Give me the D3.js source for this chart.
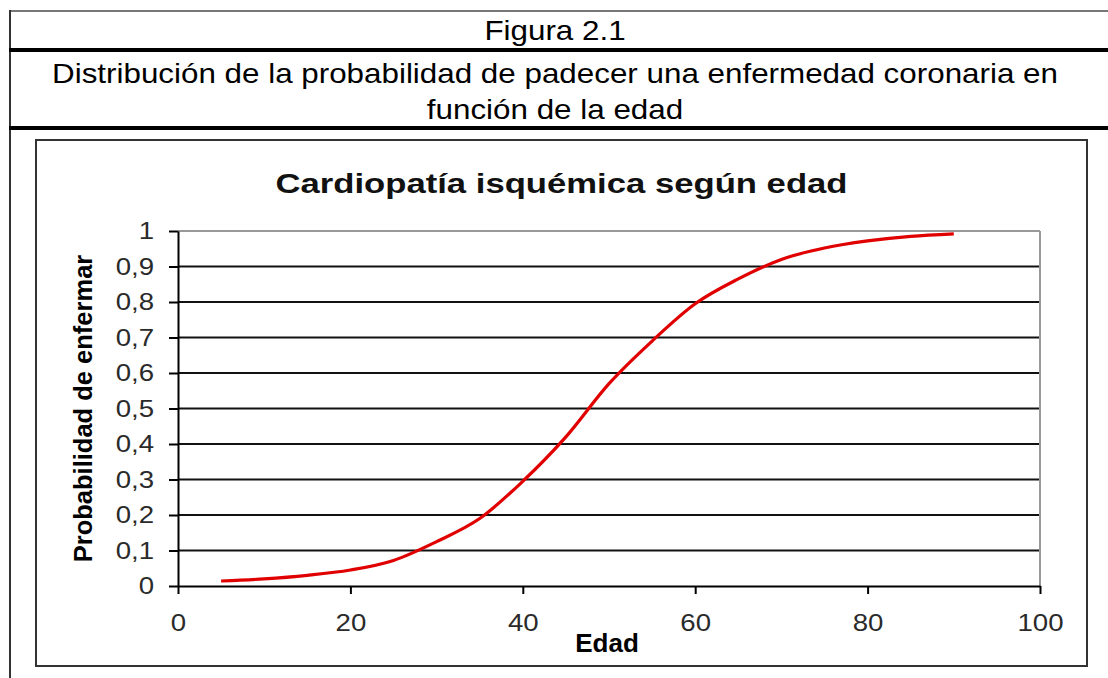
<!DOCTYPE html>
<html>
<head>
<meta charset="utf-8">
<script src="https://cdn.jsdelivr.net/npm/d3@7"></script>
<style>
  body { margin: 0; background: #fff; }
  svg { display: block; }
  text { font-family: "Liberation Sans", Arial, sans-serif; }
</style>
</head>
<body>
<svg id="chart" width="1108" height="678"></svg>
<script>
// ---- data ----
const figureLabel = "Figura 2.1";
const subtitleLines = [
  "Distribución de la probabilidad de padecer una enfermedad coronaria en",
  "función de la edad"
];
const chartTitle = "Cardiopatía isquémica según edad";
const xAxisTitle = "Edad";
const yAxisTitle = "Probabilidad de enfermar";

const ages = [5, 10, 15, 20, 25, 30, 35, 40, 45, 50, 55, 60, 65, 70, 75, 80, 85, 90];
const probabilities = [0.014, 0.02, 0.03, 0.045, 0.072, 0.125, 0.19, 0.295, 0.42, 0.57,
                       0.69, 0.795, 0.865, 0.92, 0.952, 0.972, 0.985, 0.992];

const xTicks = [0, 20, 40, 60, 80, 100];
const yTicks = [0, 0.1, 0.2, 0.3, 0.4, 0.5, 0.6, 0.7, 0.8, 0.9, 1];
const formatY = d => String(+d.toFixed(1)).replace(".", ",");

// ---- drawing ----
const svg = d3.select("#chart");
const W = 1108, H = 678;
svg.append("rect").attr("width", W).attr("height", H).attr("fill", "#fff");

function stretch(sel, factor) {
  sel.each(function () {
    const len = this.getComputedTextLength();
    d3.select(this).attr("textLength", len * factor).attr("lengthAdjust", "spacingAndGlyphs");
  });
}

// table frame
const tableLeft = 10, tableCenter = 555;
svg.append("line").attr("x1", tableLeft).attr("x2", W).attr("y1", 11).attr("y2", 11)
  .attr("stroke", "#777").attr("stroke-width", 2);
svg.append("line").attr("x1", tableLeft).attr("x2", tableLeft).attr("y1", 10).attr("y2", H)
  .attr("stroke", "#333").attr("stroke-width", 2);
[50, 128].forEach(yy => {
  svg.append("line").attr("x1", tableLeft - 1).attr("x2", W).attr("y1", yy).attr("y2", yy)
    .attr("stroke", "#000").attr("stroke-width", 4);
});

const fig = svg.append("text").attr("x", tableCenter).attr("y", 40)
  .attr("text-anchor", "middle").attr("font-size", 28).attr("fill", "#000").text(figureLabel);
stretch(fig, 1.12);

const sub1 = svg.append("text").attr("x", tableCenter).attr("y", 83)
  .attr("text-anchor", "middle").attr("font-size", 28).attr("fill", "#000").text(subtitleLines[0]);
stretch(sub1, 1.12);
const sub2 = svg.append("text").attr("x", tableCenter).attr("y", 119)
  .attr("text-anchor", "middle").attr("font-size", 28).attr("fill", "#000").text(subtitleLines[1]);
stretch(sub2, 1.12);

// chart box
const box = { x: 36, y: 140, w: 1051, h: 526 };
svg.append("rect").attr("x", box.x).attr("y", box.y).attr("width", box.w).attr("height", box.h)
  .attr("fill", "#fff").attr("stroke", "#333").attr("stroke-width", 2);

// scales
const plot = { left: 178, right: 1040, top: 231, bottom: 586 };
const x = d3.scaleLinear().domain([0, 100]).range([plot.left, plot.right]);
const y = d3.scaleLinear().domain([0, 1]).range([plot.bottom, plot.top]);

// gridlines
svg.append("g").selectAll("line").data(yTicks.filter(d => d > 0 && d < 1)).join("line")
  .attr("x1", plot.left).attr("x2", plot.right)
  .attr("y1", d => y(d)).attr("y2", d => y(d))
  .attr("stroke", "#111").attr("stroke-width", 2);
// plot frame (top & right, gray)
svg.append("line").attr("x1", plot.left).attr("x2", plot.right).attr("y1", y(1)).attr("y2", y(1))
  .attr("stroke", "#999").attr("stroke-width", 2);
svg.append("line").attr("x1", plot.right).attr("x2", plot.right).attr("y1", y(1)).attr("y2", y(0))
  .attr("stroke", "#999").attr("stroke-width", 2);

// axes
const yAxis = svg.append("g").attr("transform", `translate(${plot.left},0)`)
  .call(d3.axisLeft(y).tickValues(yTicks).tickSize(9).tickSizeOuter(0).tickPadding(15).tickFormat(formatY));
const xAxis = svg.append("g").attr("transform", `translate(0,${plot.bottom})`)
  .call(d3.axisBottom(x).tickValues(xTicks).tickSize(8).tickSizeOuter(0).tickPadding(20));
[yAxis, xAxis].forEach(g => {
  g.select(".domain").attr("stroke", "#000").attr("stroke-width", 2);
  g.selectAll(".tick line").attr("stroke", "#000").attr("stroke-width", 2);
  g.selectAll(".tick text").attr("font-size", 24).attr("fill", "#2a2a2a")
    .attr("font-family", "\"Liberation Sans\", Arial, sans-serif");
});
stretch(yAxis.selectAll(".tick text"), 1.15);
stretch(xAxis.selectAll(".tick text"), 1.15);

// curve
const line = d3.line().x((d, i) => x(ages[i])).y(d => y(d)).curve(d3.curveMonotoneX);
svg.append("path").datum(probabilities).attr("d", line)
  .attr("fill", "none").attr("stroke", "#e00000").attr("stroke-width", 3.2)
  .attr("stroke-linejoin", "round").attr("stroke-linecap", "butt");

// titles
svg.append("text").attr("x", box.x + box.w / 2).attr("y", 193)
  .attr("text-anchor", "middle").attr("font-size", 28).attr("font-weight", "bold").attr("fill", "#111")
  .attr("textLength", 572).attr("lengthAdjust", "spacingAndGlyphs").text(chartTitle);

svg.append("text").attr("x", 607).attr("y", 652)
  .attr("text-anchor", "middle").attr("font-size", 26).attr("font-weight", "bold").attr("fill", "#000")
  .text(xAxisTitle);

svg.append("text").attr("transform", `translate(92,${(plot.top + plot.bottom) / 2}) rotate(-90)`)
  .attr("text-anchor", "middle").attr("font-size", 25.5).attr("font-weight", "bold").attr("fill", "#000")
  .text(yAxisTitle);
</script>
</body>
</html>
